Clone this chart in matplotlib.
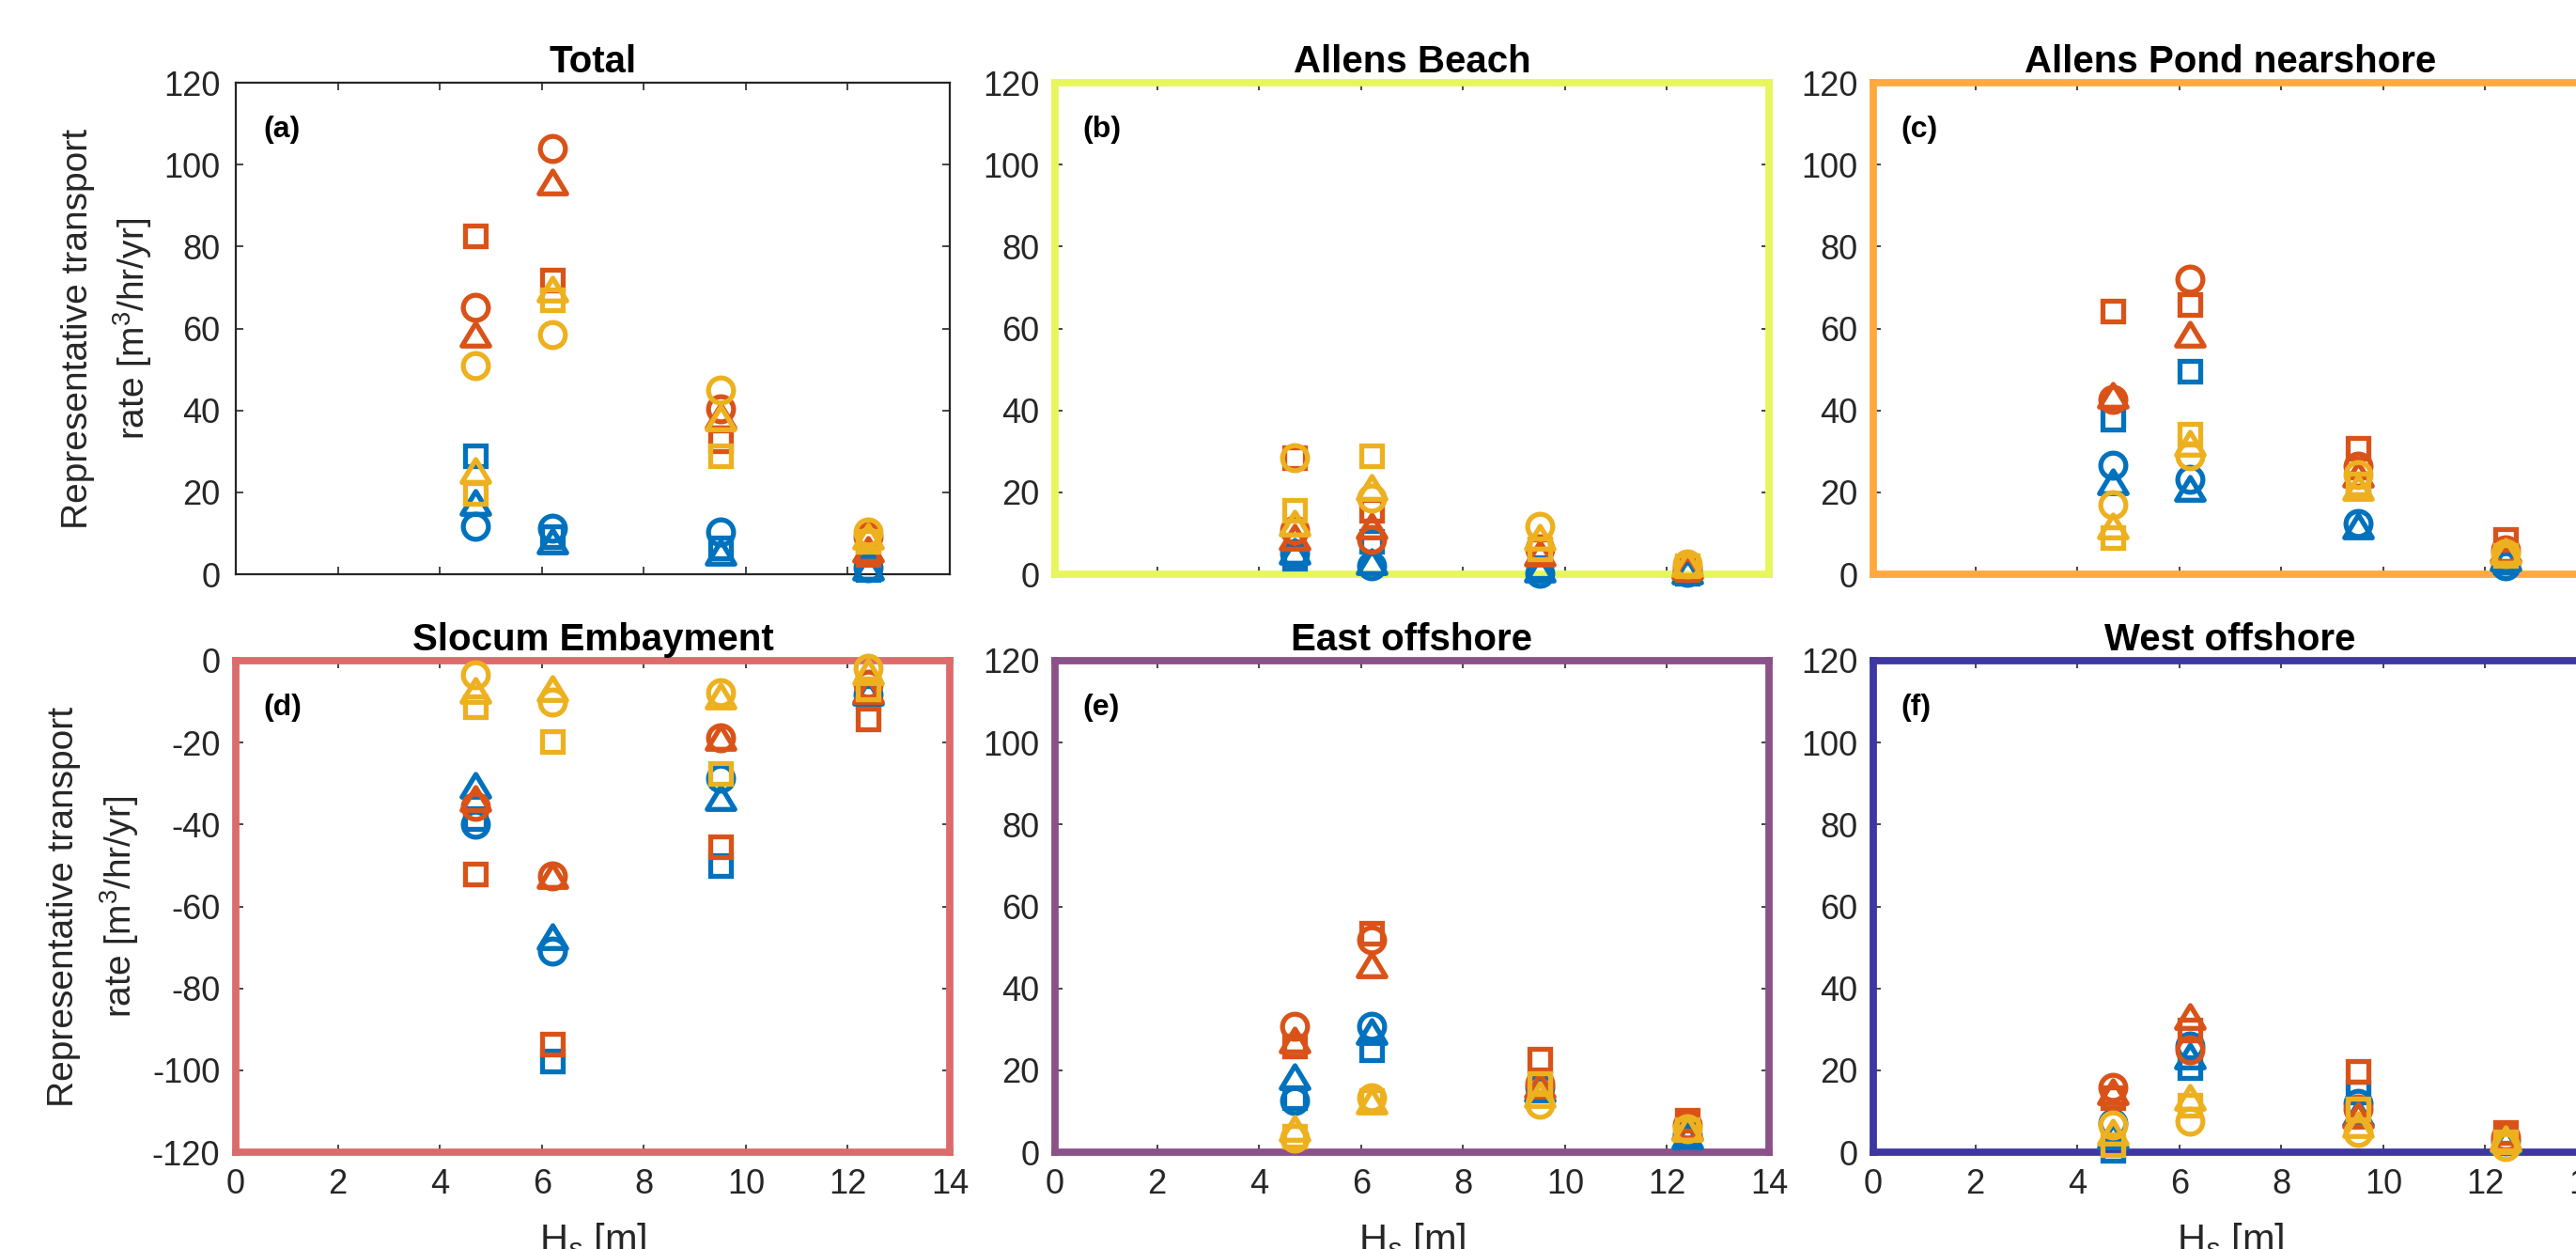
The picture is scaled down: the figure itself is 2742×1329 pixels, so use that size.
import matplotlib
matplotlib.use('Agg')
import matplotlib.pyplot as plt
from matplotlib.path import Path

plt.rcParams['font.family'] = ['Liberation Sans', 'DejaVu Sans']
plt.rcParams['mathtext.fontset'] = 'custom'
plt.rcParams['mathtext.rm'] = 'Liberation Sans'
plt.rcParams['mathtext.it'] = 'Liberation Sans:italic'
plt.rcParams['mathtext.bf'] = 'Liberation Sans:bold'
plt.rcParams['axes.unicode_minus'] = False

# ---------------- data ----------------
Hs = [4.7, 6.2, 9.5, 12.4]
xticks = [0, 2, 4, 6, 8, 10, 12, 14]

titles = ['Total', 'Allens Beach', 'Allens Pond nearshore',
          'Slocum Embayment', 'East offshore', 'West offshore']
panel_labels = ['(a)', '(b)', '(c)', '(d)', '(e)', '(f)']

# (a) Total
a_blue_circle = [11.6, 11.2, 10.4, 1.6]
a_blue_square = [28.9, 9.2, 6.4, 1.2]
a_blue_triangle = [17.5, 8.0, 5.2, 1.6]
a_orange_circle = [65.2, 104.0, 40.3, 9.2]
a_orange_square = [82.6, 71.9, 32.5, 4.8]
a_orange_triangle = [58.4, 95.7, 38.5, 6.0]
a_yellow_circle = [51.0, 58.4, 45.0, 10.4]
a_yellow_square = [19.7, 67.0, 28.9, 8.0]
a_yellow_triangle = [25.3, 69.5, 38.0, 9.2]

# (b) Allens Beach
b_blue_circle = [5.0, 2.0, 0.3, 0.5]
b_blue_square = [3.8, 8.0, 1.5, 0.3]
b_blue_triangle = [5.5, 3.0, 1.1, 0.8]
b_orange_circle = [10.7, 8.5, 6.3, 1.5]
b_orange_square = [28.5, 15.5, 6.0, 1.2]
b_orange_triangle = [9.0, 11.6, 5.0, 1.8]
b_yellow_circle = [28.5, 18.5, 11.6, 2.5]
b_yellow_square = [15.5, 29.0, 6.3, 2.0]
b_yellow_triangle = [12.4, 21.0, 9.0, 2.5]

# (c) Allens Pond nearshore
c_blue_circle = [26.6, 23.1, 12.5, 2.0]
c_blue_square = [37.8, 49.6, 22.0, 3.0]
c_blue_triangle = [22.5, 20.8, 11.8, 4.0]
c_orange_circle = [42.6, 72.1, 26.5, 6.0]
c_orange_square = [64.3, 65.9, 30.8, 8.6]
c_orange_triangle = [43.5, 58.6, 24.3, 6.0]
c_yellow_circle = [17.0, 29.0, 24.3, 5.0]
c_yellow_square = [9.0, 34.3, 22.0, 4.5]
c_yellow_triangle = [11.6, 32.0, 21.2, 5.5]

# (d) Slocum Embayment
d_blue_circle = [-40.0, -70.9, -28.6, -8.3]
d_blue_square = [-38.6, -97.7, -50.0, -8.7]
d_blue_triangle = [-30.6, -67.4, -33.6, -7.8]
d_orange_circle = [-35.6, -52.5, -18.7, -5.8]
d_orange_square = [-52.0, -93.7, -45.5, -14.2]
d_orange_triangle = [-33.8, -52.5, -18.7, -7.3]
d_yellow_circle = [-3.5, -10.2, -7.8, -1.8]
d_yellow_square = [-11.2, -19.7, -27.6, -6.8]
d_yellow_triangle = [-7.3, -6.8, -8.7, -2.8]

# (e) East offshore
e_blue_circle = [12.7, 30.7, 15.8, 4.4]
e_blue_square = [13.2, 25.0, 16.7, 4.4]
e_blue_triangle = [18.4, 29.4, 15.4, 4.0]
e_orange_circle = [30.7, 51.8, 16.7, 6.6]
e_orange_square = [25.9, 53.5, 22.8, 7.9]
e_orange_triangle = [27.2, 45.6, 16.2, 6.0]
e_yellow_circle = [3.5, 13.2, 11.8, 5.7]
e_yellow_square = [3.9, 12.7, 16.7, 5.5]
e_yellow_triangle = [5.7, 12.3, 14.0, 5.7]

# (f) West offshore
f_blue_circle = [7.1, 26.0, 11.9, 2.7]
f_blue_square = [0.5, 20.7, 14.6, 2.5]
f_blue_triangle = [4.0, 23.3, 9.3, 2.7]
f_orange_circle = [15.9, 25.1, 10.6, 3.6]
f_orange_square = [13.2, 29.9, 19.8, 4.9]
f_orange_triangle = [14.6, 33.0, 8.9, 3.5]
f_yellow_circle = [6.7, 7.5, 4.9, 1.4]
f_yellow_square = [1.8, 11.5, 10.6, 2.5]
f_yellow_triangle = [4.9, 13.2, 6.7, 3.2]

panels = [
    [a_blue_circle, a_blue_square, a_blue_triangle, a_orange_circle, a_orange_square,
     a_orange_triangle, a_yellow_circle, a_yellow_square, a_yellow_triangle],
    [b_blue_circle, b_blue_square, b_blue_triangle, b_orange_circle, b_orange_square,
     b_orange_triangle, b_yellow_circle, b_yellow_square, b_yellow_triangle],
    [c_blue_circle, c_blue_square, c_blue_triangle, c_orange_circle, c_orange_square,
     c_orange_triangle, c_yellow_circle, c_yellow_square, c_yellow_triangle],
    [d_blue_circle, d_blue_square, d_blue_triangle, d_orange_circle, d_orange_square,
     d_orange_triangle, d_yellow_circle, d_yellow_square, d_yellow_triangle],
    [e_blue_circle, e_blue_square, e_blue_triangle, e_orange_circle, e_orange_square,
     e_orange_triangle, e_yellow_circle, e_yellow_square, e_yellow_triangle],
    [f_blue_circle, f_blue_square, f_blue_triangle, f_orange_circle, f_orange_square,
     f_orange_triangle, f_yellow_circle, f_yellow_square, f_yellow_triangle],
]

# ---------------- styles ----------------
series_colors = ['#0072BD'] * 3 + ['#D95319'] * 3 + ['#EDB120'] * 3
tri = Path([(-1, -0.8), (1, -0.8), (0, 0.85), (-1, -0.8)],
           [Path.MOVETO, Path.LINETO, Path.LINETO, Path.CLOSEPOLY])
series_markers = ['o', 's', tri] * 3
series_sizes = [9.6, 7.8, 10.6] * 3
frame_colors = ['#262626', '#E6F65C', '#FFA940', '#DB6C6C', '#8B5189', '#3F37A1']
frame_widths = [0.8, 2.8, 2.8, 2.8, 2.8, 2.8]

W, H = 2742, 1329
fig = plt.figure(figsize=(W / 200, H / 200), dpi=200)

col_left = [251, 1123, 1994]
ax_w = 760
row_top = [88, 703]
ax_h = 523
ylabel_x = [-0.114, -0.133]

txt = '#262626'
for i in range(6):
    r, c = divmod(i, 3)
    left = col_left[c] / W
    bottom = 1 - (row_top[r] + ax_h) / H
    ax = fig.add_axes([left, bottom, ax_w / W, ax_h / H])
    for k, vals in enumerate(panels[i]):
        ax.plot(Hs, vals, linestyle='none', marker=series_markers[k],
                markersize=series_sizes[k], markerfacecolor='none',
                markeredgecolor=series_colors[k], markeredgewidth=1.9,
                clip_on=False, zorder=3)
    ax.set_xlim(0, 14)
    ax.set_xticks(xticks)
    if i == 3:
        ax.set_ylim(-120, 0)
        ax.set_yticks(range(-120, 1, 20))
    else:
        ax.set_ylim(0, 120)
        ax.set_yticks(range(0, 121, 20))
    for s in ax.spines.values():
        s.set_color(frame_colors[i])
        s.set_linewidth(frame_widths[i])
    ax.tick_params(direction='in', length=2.8, width=0.6, color=txt,
                   labelcolor=txt, labelsize=13, top=True, right=True, pad=6)
    if r == 0:
        ax.tick_params(labelbottom=False)
    ax.set_title(titles[i], fontsize=14.5, fontweight='bold', pad=4)
    ax.text(0.038, 0.905, panel_labels[i], transform=ax.transAxes,
            fontsize=11.5, fontweight='bold', ha='left', va='center')
    if c == 0:
        ax.set_ylabel('Representative transport\nrate [m$^3$/hr/yr]',
                      fontsize=14, color=txt, linespacing=1.5)
        ax.yaxis.set_label_coords(ylabel_x[r], 0.5)
    if r == 1:
        ax.set_xlabel('H$_s$ [m]', fontsize=15, color=txt)
        ax.xaxis.set_label_coords(0.5, -0.14)

fig.savefig('out.png', dpi=200)
